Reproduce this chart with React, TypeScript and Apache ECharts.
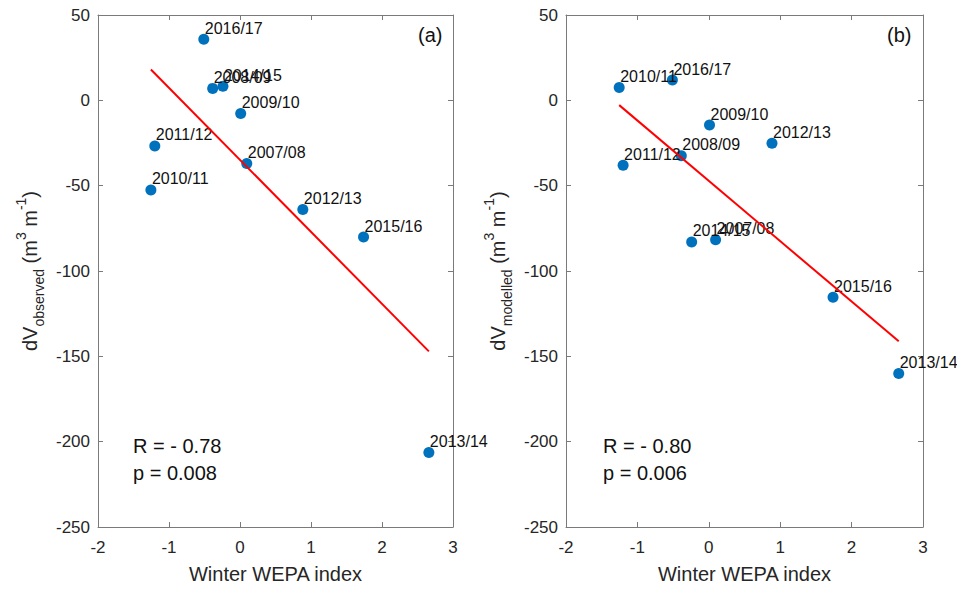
import React, { useEffect, useRef } from "react";
import * as echarts from "echarts";

const seasons = ["2007/08", "2008/09", "2009/10", "2010/11", "2011/12", "2012/13", "2013/14", "2014/15", "2015/16", "2016/17"];
const wepaIndex = [0.095, -0.385, 0.01, -1.255, -1.2, 0.885, 2.66, -0.24, 1.74, -0.51];
const dvObserved = [-37, 7.0, -7.7, -52.5, -26.7, -64, -206.3, 8.2, -80.1, 35.8];
const dvModelled = [-81.7, -32.5, -14.5, 7.5, -38, -25.2, -160.1, -83, -115.4, 11.9];
const fitObserved = [[-1.255, 18.1], [2.66, -147.1]];
const fitModelled = [[-1.255, -2.8], [2.66, -141.2]];
const statsObserved = ["R = - 0.78", "p = 0.008"];
const statsModelled = ["R = - 0.80", "p = 0.006"];
const xTicks = { min: -2, max: 3, interval: 1 };
const yTicks = { min: -250, max: 50, interval: 50 };

const FONT = "'Liberation Sans', Arial, Helvetica, sans-serif";
const AXIS_COLOR = "#7a7a7a";
const TEXT_COLOR = "#262626";

function pts(y: number[]) {
  return seasons.map((s, i) => ({ name: s, value: [wepaIndex[i], y[i]] }));
}

function yName(sub: string) {
  return `{m|dV}{sub|${sub}}{m| (m}{sup|3}{m| m}{sup|-1}{m|)}`;
}

const yNameStyle = {
  color: TEXT_COLOR,
  fontFamily: FONT,
  rich: {
    m: { fontSize: 20, lineHeight: 32, color: TEXT_COLOR, fontFamily: FONT },
    sub: { fontSize: 14, lineHeight: 14, verticalAlign: "bottom", color: TEXT_COLOR, fontFamily: FONT },
    sup: { fontSize: 14, lineHeight: 14, verticalAlign: "top", color: TEXT_COLOR, fontFamily: FONT },
  },
};

function xAxes(gi: number) {
  const common = {
    type: "value",
    gridIndex: gi,
    ...xTicks,
    splitLine: { show: false },
    axisLine: { show: true, onZero: false, lineStyle: { color: AXIS_COLOR, width: 1 } },
    axisTick: { show: true, inside: true, length: 5, lineStyle: { color: AXIS_COLOR } },
  };
  return [
    {
      ...common,
      position: "bottom",
      name: "Winter WEPA index",
      nameLocation: "middle",
      nameGap: 36,
      nameTextStyle: { fontSize: 20, color: TEXT_COLOR, fontFamily: FONT, lineHeight: 22 },
      axisLabel: { fontSize: 17, color: TEXT_COLOR, fontFamily: FONT, margin: 12 },
    },
    { ...common, position: "top", axisLabel: { show: false } },
  ];
}

function yAxes(gi: number, sub: string) {
  const common = {
    type: "value",
    gridIndex: gi,
    ...yTicks,
    splitLine: { show: false },
    axisLine: { show: true, onZero: false, lineStyle: { color: AXIS_COLOR, width: 1 } },
    axisTick: { show: true, inside: true, length: 5, lineStyle: { color: AXIS_COLOR } },
  };
  return [
    {
      ...common,
      position: "left",
      name: yName(sub),
      nameLocation: "middle",
      nameRotate: 90,
      nameGap: 52,
      nameTextStyle: yNameStyle,
      axisLabel: { fontSize: 17, color: TEXT_COLOR, fontFamily: FONT, margin: 8 },
    },
    { ...common, position: "right", axisLabel: { show: false } },
  ];
}

function scatter(xi: number, yi: number, y: number[]) {
  return {
    type: "scatter",
    xAxisIndex: xi,
    yAxisIndex: yi,
    data: pts(y),
    symbolSize: 11,
    itemStyle: { color: "#0072BD", opacity: 1 },
    z: 2,
    label: {
      show: true,
      formatter: "{b}",
      position: "right",
      distance: 0,
      offset: [-4.5, -11],
      align: "left",
      verticalAlign: "middle",
      fontSize: 16,
      color: "#111",
      fontFamily: FONT,
    },
  };
}

function fitLine(xi: number, yi: number, d: number[][]) {
  return {
    type: "line",
    xAxisIndex: xi,
    yAxisIndex: yi,
    data: d,
    symbol: "none",
    lineStyle: { color: "#ff0000", width: 2 },
    z: 3,
  };
}

function statText(left: number, lines: string[]) {
  return {
    type: "text",
    left,
    top: 432,
    style: {
      text: lines.join("\n"),
      fontSize: 20,
      lineHeight: 27,
      fill: "#111",
      fontFamily: FONT,
    },
  };
}

export default function App() {
  const ref = useRef<HTMLDivElement>(null);
  useEffect(() => {
    if (!ref.current) return;
    const chart = echarts.init(ref.current, undefined, { renderer: "svg" });
    chart.setOption({
      animation: false,
      backgroundColor: "#ffffff",
      textStyle: { fontFamily: FONT },
      grid: [
        { left: 98, right: 504, top: 15, bottom: 60 },
        { left: 566, right: 34, top: 15, bottom: 60 },
      ],
      xAxis: [...xAxes(0), ...xAxes(1)],
      yAxis: [...yAxes(0, "observed"), ...yAxes(1, "modelled")],
      series: [
        scatter(0, 0, dvObserved),
        fitLine(0, 0, fitObserved),
        scatter(2, 2, dvModelled),
        fitLine(2, 2, fitModelled),
      ],
      graphic: [
        statText(133, statsObserved),
        statText(603, statsModelled),
        {
          type: "text",
          left: 418,
          top: 25,
          style: { text: "(a)", fontSize: 20, fill: "#111", fontFamily: FONT },
        },
        {
          type: "text",
          left: 887,
          top: 25,
          style: { text: "(b)", fontSize: 20, fill: "#111", fontFamily: FONT },
        },
      ],
    });
    return () => chart.dispose();
  }, []);
  return (
    <div
      ref={ref}
      style={{ position: "fixed", left: 0, top: 0, width: 957, height: 590, background: "#fff" }}
    />
  );
}
